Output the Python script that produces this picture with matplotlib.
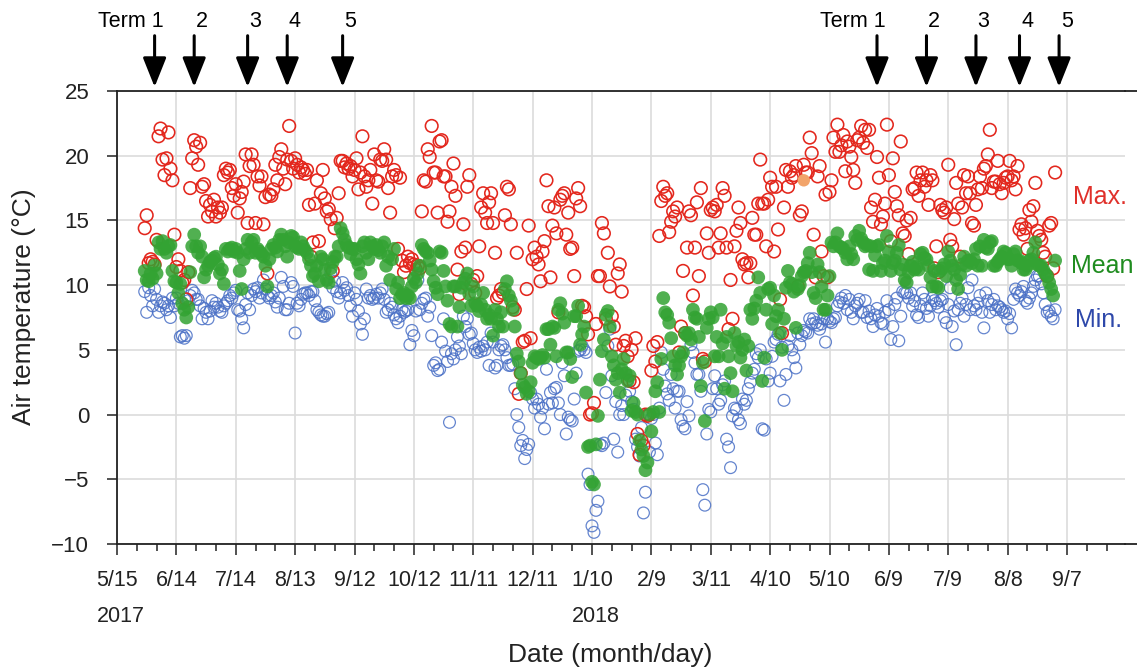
import numpy as np
import pandas as pd
import matplotlib
matplotlib.use('Agg')
import matplotlib.pyplot as plt
import matplotlib.transforms as mtransforms
import matplotlib.dates as mdates
from matplotlib.lines import Line2D

plt.rcParams['font.family'] = ['Liberation Sans', 'DejaVu Sans']

# ---------------- data (daily values, first day 2017-05-29) ----------------
start_date = '2017-05-29'

tmax = [
    14.4, 15.4, 11.7, 12.0, 11.8, 11.6, 13.5, 21.5, 22.1, 19.7,
    18.5, 19.8, 21.8, 19.0, 18.1, 13.9, 11.4, 12.0, 11.1, 10.2,
    10.4, 8.9, 11.0, 17.5, 19.8, 21.2, 20.7, 19.3, 21.0, 17.6,
    17.8, 16.5, 15.3, 16.2, 15.7, 16.6, 15.3, 16.0, 15.6, 16.0,
    18.5, 19.0, 18.7, 18.9, 17.5, 16.9, 17.8, 15.6, 16.7, 17.2,
    18.0, 20.1, 14.8, 19.2,
    20.1, 19.3, 14.8, 18.4, 17.7, 18.4, 14.7, 16.8, 10.9,
    17.0, 16.9, 17.4, 19.3, 18.1, 19.9, 20.5, 19.0, 17.8, 19.7,
    22.3, 19.6, 19.0, 19.8, 19.3, 18.7, 19.1, 18.9, 18.6, 18.9,
    16.2, 12.2, 13.3, 16.3, 18.1, 13.4, 17.1, 18.9, 16.7, 15.7,
    15.9, 15.1, 11.1, 14.4, 15.2, 17.1, 19.6, 19.6, 19.1, 19.4,
    19.0, 19.2, 18.4, 18.9, 19.8, 17.4, 18.7, 21.5, 18.4, 17.6,
    18.1,
    18.9, 16.3, 20.1, 18.1, 18.0, 19.7, 19.6, 20.5, 19.7, 17.5,
    15.6, 18.4, 18.9, 18.5, 12.8, 18.3, 11.9, 11.0, 11.5, 12.2,
    11.7, 12.0, 11.6, 11.2, 11.5, 11.3, 15.7, 18.1, 18.0, 20.5,
    19.9, 22.3, 18.7, 18.7, 15.6, 21.1, 21.2, 18.4, 18.4, 14.9,
    15.7, 17.6, 19.4, 16.9, 11.2, 9.3, 12.6, 14.7, 12.9, 17.6,
    18.5, 10.1, 10.4, 9.4, 10.7, 13.0, 16.0, 17.1, 15.6, 14.8,
    16.4,
    17.1, 14.8, 12.5, 9.0, 9.2, 9.7, 9.4, 15.4, 17.6, 17.4,
    14.7, 8.3, 8.1, 12.5, 1.6, 3.2, 5.6, 5.7, 9.7,
    14.6, 5.9, 12.0, 12.9, 12.2, 11.6, 10.3, 12.6, 13.4, 18.1,
    16.1, 10.6, 14.6, 16.0, 14.0, 7.9, 16.6, 16.9, 17.1, 13.9,
    15.6, 12.8, 12.9, 10.7, 16.7, 17.5, 16.1, 8.4, 8.3, 7.6,
    6.2, 0.0, 0.1, 0.9, 7.0, 10.7, 10.7, 14.8, 14.0, 7.4,
    12.5,
    9.9, 7.6, 6.8, 5.4, 10.9, 11.6, 9.5, 5.3, 5.7, 4.5,
    2.6, 5.0, 2.5, 5.9, -1.5, -3.1, -2.0, -2.4, 0.0, -0.1,
    0.0, 3.4, 5.3, 4.1, 5.6, 13.8, 16.5, 17.6, 16.9, 17.1,
    14.1, 14.9, 15.7, 15.3, 16.0, 4.8, 6.8, 11.1, 6.3, 12.9,
    15.7, 15.4, 9.2, 12.9, 16.4, 10.7, 17.5, 4.3, 4.1, 14.0,
    12.5, 15.8, 16.0, 15.7, 16.2, 12.9, 14.0, 17.5, 16.9,
    12.9,
    6.6, 10.4, 7.4, 13.0, 14.2, 16.0, 14.8, 12.0, 11.6, 11.7,
    10.6, 11.7, 15.2, 13.9, 13.9, 16.3, 19.7, 16.3, 16.3, 13.0,
    16.6, 18.3, 17.6, 12.6, 17.6, 14.3, 8.9, 6.3, 16.0, 18.9,
    17.6, 18.8, 18.3, 18.5, 19.2, 9.9, 15.4, 15.7, 19.3, 18.7,
    18.7, 21.4, 20.2, 13.9, 10.6, 18.4, 19.2, 12.6, 10.7, 17.0,
    10.6, 17.2, 18.1, 21.4, 20.3, 22.4, 20.3, 20.8, 21.6, 18.8,
    21.1,
    20.7, 19.9, 18.9, 17.9, 21.2, 21.4, 22.3, 21.0, 22.0, 20.6,
    22.0, 16.0, 14.9, 16.6, 19.9, 18.3, 14.7, 15.3, 16.3, 22.4,
    18.5, 13.4, 19.8, 17.2, 16.1, 15.4, 21.1, 14.0, 13.8, 15.0,
    12.4, 15.2, 17.4, 17.5, 18.7, 16.9, 18.1, 18.7, 17.6, 18.1,
    16.2, 18.5, 18.1, 11.3, 13.0, 11.0, 16.2, 15.8, 15.6, 16.0,
    19.3, 13.5, 13.0, 15.1, 17.9, 16.3, 12.2, 16.0, 18.5,
    17.1,
    18.4, 17.1, 14.8, 14.6, 16.2, 17.4, 18.4, 17.5, 19.0, 19.2,
    20.1, 22.0, 17.5, 18.0, 18.0, 19.6, 17.8, 17.1, 17.9, 18.3,
    18.4, 19.6, 18.1, 18.4, 17.4, 19.2, 14.3, 14.7, 13.9, 14.4,
    12.8, 15.8, 14.9, 16.1, 17.9,
    14.2, 13.8, 13.5, 12.5, 12.2, 10.7, 14.6, 14.8, 11.3, 18.7,
]

tmean = [
    11.1, 10.4, 10.3, 10.9, 10.5, 11.5, 10.9, 13.3, 12.8, 13.4,
    12.8, 12.5, 13.0, 13.1, 11.1, 10.3, 10.2, 9.4, 10.1, 8.6,
    8.1, 7.5, 8.3, 11.0, 13.0, 13.9, 13.0, 12.5, 13.0, 12.2,
    10.6, 11.2, 11.5, 11.8, 11.9, 12.1, 12.2, 11.6, 10.9, 11.2,
    10.1, 12.8, 12.6, 12.8, 12.9, 12.6, 12.8, 12.5, 11.1, 9.7,
    12.0, 12.8, 13.5, 12.5,
    13.3, 13.5, 12.5, 12.8, 12.6, 12.4, 12.2, 11.5, 9.9,
    12.0, 12.8, 13.1, 12.9, 12.6, 13.5, 13.9, 13.5, 13.0, 12.2,
    13.3, 13.8, 13.7, 13.0, 12.9, 12.8, 13.3, 13.0, 12.7, 12.5,
    12.0, 11.5, 10.7, 10.9, 11.5, 10.3, 12.2, 12.0, 11.2, 10.4,
    10.2, 11.3, 11.8, 12.2, 12.2, 13.0, 14.4, 14.0, 13.5, 13.1,
    12.9, 12.4, 12.8, 12.8, 12.0, 11.6, 10.9, 13.0, 13.3, 12.5,
    12.0,
    13.3, 13.0, 12.8, 13.1, 12.7, 12.5, 13.0, 13.3, 11.5, 12.2,
    10.4, 12.0, 12.8, 9.7, 10.2, 9.0, 9.3, 9.4, 9.0, 9.2,
    9.0, 9.9, 10.5, 10.2, 10.9, 11.5, 13.1, 12.8, 12.6, 12.5,
    11.9, 11.2, 10.3, 9.8, 9.3, 12.6, 12.5, 11.1, 9.9, 8.8,
    7.0, 6.8, 9.9, 9.9, 6.8, 8.3, 9.8, 10.2, 10.5, 10.9,
    9.3, 8.4, 9.9, 8.6, 8.4, 8.0, 8.5, 9.4, 8.1, 7.4,
    7.7,
    7.4, 6.1, 8.1, 7.4, 6.8, 7.9, 6.8, 9.7, 10.3, 9.2,
    8.8, 8.1, 6.8, 4.7, 4.1, 3.2, 2.3, 2.1, 1.6,
    1.8, 2.5, 4.0, 4.5, 4.4, 4.3, 4.4, 4.6, 4.4, 6.6,
    6.6, 5.4, 6.8, 6.7, 4.5, 8.1, 8.6, 7.8, 7.1, 4.8,
    4.8, 4.3, 2.9, 7.6, 7.6, 8.4, 5.4, 6.2, 6.8, 1.7,
    -2.5, -2.4, -5.2, -5.4, -2.3, -0.1, 2.7, 4.9, 5.8, 7.7,
    8.0,
    6.8, 4.5, 3.8, 2.7, 3.2, 1.7, 3.5, 4.3, 3.2, 2.6,
    3.0, 0.3, 0.9, 0.2, 0.0, -2.0, -2.7, -3.2, -4.3, -3.7,
    0.0, -1.3, 0.2, 1.8, 2.5, 0.2, 4.3, 9.0, 7.9, 7.7,
    7.1, 5.9, 4.5, 3.8, 3.1, 3.8, 4.5, 4.8, 6.3, 6.1,
    6.3, 5.8, 8.1, 7.5, 7.4, 6.0, 2.2, 4.0, -0.5, 6.7,
    7.4, 7.9, 7.5, 4.5, 6.0, 4.5, 8.1, 5.5, 2.0,
    6.0,
    4.5, 3.2, 1.8, 6.3, 5.3, 5.6, 4.4, 5.0, 5.8, 3.4,
    5.3, 8.1, 7.4, 8.2, 8.8, 10.6, 9.4, 2.6, 4.4, 8.1,
    9.7, 9.8, 7.0, 9.2, 7.6, 8.1, 6.3, 5.0, 7.4, 9.8,
    11.1, 10.2, 10.1, 9.5, 6.7, 9.7, 10.0, 10.7, 11.0, 11.1,
    11.7, 12.5, 11.0, 9.4, 9.0, 11.6, 11.0, 9.9, 8.1, 8.1,
    9.2, 10.7, 13.3, 13.0, 13.3, 14.0, 13.0, 12.9, 12.8, 12.5,
    12.0,
    13.0, 12.4, 12.0, 13.8, 13.5, 14.2, 13.6, 13.3, 13.0, 13.1,
    11.2, 13.0, 11.1, 12.3, 13.0, 13.1, 11.1, 11.7, 11.9, 13.8,
    12.6, 11.1, 11.7, 11.9, 12.5, 13.1, 11.2, 11.6, 10.4, 10.2,
    11.0, 11.5, 11.8, 11.2, 11.4, 11.2, 12.4, 12.5, 12.1, 12.0,
    11.5, 10.6, 9.9, 11.1, 9.9, 9.8, 11.1, 11.3, 11.6, 10.7,
    12.6, 11.9, 11.5, 11.2, 10.4, 9.7, 10.8, 11.6, 12.2, 11.5,
    11.9,
    11.9, 11.7, 12.0, 12.8, 11.5, 13.0, 11.5, 13.5, 12.9,
    12.8, 13.3, 13.4, 11.5, 11.5, 11.8, 12.0, 12.2, 12.6, 12.5,
    12.0, 12.0, 11.5, 12.4, 12.6, 11.9, 11.9, 11.7, 11.2, 11.2,
    11.5, 11.9, 12.0, 12.5, 13.3,
    11.6, 11.5, 11.5, 11.2, 10.9, 10.7, 10.2, 9.7, 9.2, 11.9,
]

tmin = [
    9.5, 7.9, 9.8, 9.2, 8.4, 9.7, 8.9, 7.9, 8.4, 8.7,
    8.6, 8.1, 8.4, 7.5, 9.0, 8.4, 9.0, 8.6, 6.0, 6.1,
    5.9, 6.1, 8.8, 9.2, 9.6, 9.4, 8.9, 8.9, 8.4, 7.4,
    8.2, 7.9, 7.4, 8.0, 8.8, 8.3, 8.6, 8.3, 8.0, 7.9,
    8.4, 8.6, 8.8, 9.2, 9.0, 9.4, 9.6, 8.1, 8.0, 7.4,
    6.7, 8.5, 9.4, 8.1,
    9.2, 9.7, 9.5, 9.8, 9.0, 9.4, 10.4, 9.7, 9.2,
    9.0, 9.2, 9.4, 8.7, 8.3, 9.0, 10.6, 9.9, 8.1, 8.1,
    8.6, 10.2, 9.9, 6.3, 8.6, 8.4, 8.9, 9.3, 9.4, 9.4,
    9.2, 9.5, 9.5, 8.8, 8.1, 7.9, 7.7, 7.6, 7.6, 7.8,
    7.9, 10.9, 9.8, 10.3, 9.5, 9.0, 9.4, 10.2, 9.6, 9.8,
    9.2, 8.4, 7.6, 9.4, 8.9, 8.0, 7.0, 6.2, 7.4, 9.7,
    9.0,
    9.2, 8.9, 9.0, 9.3, 9.0, 9.4, 9.7, 8.9, 7.9, 8.1,
    8.6, 8.3, 7.7, 7.4, 7.1, 7.6, 8.1, 7.9, 8.0, 8.1,
    5.4, 6.5, 6.1, 8.0, 10.4, 8.1, 8.6, 8.9, 9.0, 7.6,
    8.3, 6.1, 3.8, 4.0, 3.4, 3.5, 5.6, 7.4, 4.9, 4.1,
    -0.6, 4.7, 4.3, 5.0, 6.0, 5.3, 4.7, 7.6, 6.8, 7.4,
    6.2, 6.3, 5.5, 5.0, 4.8, 5.2, 4.9, 5.3, 5.0, 5.6,
    3.8,
    6.3, 5.6, 3.6, 3.8, 5.0, 5.3, 5.4, 5.0, 4.4, 3.8,
    3.8, 3.9, 2.0, 0.0, -1.0, -2.4, -2.0, -3.4, -2.7,
    -2.3, 1.7, 1.2, 0.5, 1.2, 0.8, -0.2, 0.5, -1.1, 3.5,
    0.8, 1.7, 0.9, 2.0, 2.1, 0.9, 0.0, 4.0, 3.0, -1.5,
    -0.2, -0.4, -0.5, 1.2, 3.2, 4.9, 5.0, 5.3, 5.0, 4.8,
    -4.6, -5.4, -8.6, -9.1, -7.4, -6.7, -2.3, -2.4, -2.2, 1.7,
    5.3,
    6.6, 3.0, -1.9, 1.0, -2.9, 0.0, 0.7, 0.0, 1.5, 2.7,
    1.8, 1.0, 0.4, -1.9, -2.5, -3.2, -1.0, -7.6, -6.0, 0.0,
    -2.9, -0.3, 0.0, -2.2, -3.1, 0.5, 4.8, 3.5, 2.2, 1.6,
    1.1, 3.1, 2.0, 0.5, 1.8, 1.8, -0.4, -0.9, -1.1, 1.0,
    -0.1, 5.4, 4.8, 4.0, 3.1, 3.1, 1.8, -5.8, -7.0,
    -1.5, 0.4, 0.2, 2.0, 3.0, 2.0, 0.8, 1.1, 2.3, 2.6,
    -1.9,
    -2.5, -4.1, -0.1, 0.5, 0.4, -0.4, -0.7, 1.2, 0.8, 1.1,
    2.0, 2.5, 3.2, 3.5, 4.7, 4.4, 5.0, -1.1, -1.2, 4.3,
    2.6, 3.2, 4.5, 5.6, 5.8, 6.2, 2.6, 5.2, 1.1, 3.1,
    5.3, 6.1, 5.0, 4.4, 3.6, 6.3, 5.4, 6.1, 6.5, 6.4,
    6.3, 7.4, 7.0, 7.4, 7.1, 6.9, 6.6, 7.0, 7.4, 5.6,
    7.4, 7.2, 7.1, 7.4, 7.5, 8.4, 8.7, 9.0, 8.6, 9.2,
    8.1,
    8.9, 7.9, 7.4, 8.4, 8.6, 8.9, 7.9, 7.9, 8.8, 7.5,
    8.0, 7.4, 6.8, 7.7, 8.2, 7.6, 7.1, 7.0, 7.9, 8.8,
    8.1, 5.8, 6.8, 8.5, 9.0, 5.7, 7.6, 9.5, 9.4, 9.4,
    9.0, 9.4, 8.4, 8.8, 7.7, 7.5, 8.4, 9.4, 8.9, 8.2,
    7.6, 8.4, 9.0, 8.8, 8.6, 8.3, 8.8, 8.9, 7.5, 7.1,
    8.5, 9.8, 6.8, 8.0, 5.4, 8.1, 8.6, 9.0, 7.6, 8.5,
    9.8,
    8.1, 10.4, 8.4, 8.1, 8.6, 9.2, 7.9, 6.7, 9.4,
    8.8, 7.9, 8.5, 8.9, 8.1, 8.4, 8.3, 8.1, 7.9, 8.0,
    7.4, 7.8, 6.7, 8.9, 9.7, 9.4, 9.2, 9.5, 9.9, 8.8,
    8.6, 9.0, 9.4, 9.9, 10.4,
    10.7, 10.7, 10.1, 9.4, 8.5, 7.9, 8.0, 7.6, 7.4, 8.1,
]

highlight_dates = ['2018-04-27']
highlight_values = [18.1]

term_dates = ['2017-06-03', '2017-06-23', '2017-07-20', '2017-08-09', '2017-09-06',
              '2018-06-03', '2018-06-28', '2018-07-23', '2018-08-14', '2018-09-03']
term_labels = ['Term 1', '2', '3', '4', '5', 'Term 1', '2', '3', '4', '5']

tick_start = '2017-05-15'
tick_labels = ['5/15', '6/14', '7/14', '8/13', '9/12', '10/12', '11/11', '12/11',
               '1/10', '2/9', '3/11', '4/10', '5/10', '6/9', '7/9', '8/8', '9/7']
year_labels = {0: '2017', 8: '2018'}

series_labels = ['Max.', 'Mean', 'Min.']
# ---------------------------------------------------------------------------

c_max = '#e3271d'
c_mean = '#33a333'
c_min = '#4a70c6'

W, H = 1137, 671
ax_left, ax_right, ax_top, ax_bottom = 117, 1125, 91, 544

fig = plt.figure(figsize=(W / 100, H / 100), dpi=100)
ax = fig.add_axes([ax_left / W, (H - ax_bottom) / H, (ax_right - ax_left) / W,
                   (ax_bottom - ax_top) / H])

def dates_for(vals):
    return mdates.date2num(pd.date_range(start_date, periods=len(vals), freq='D').to_pydatetime())

ax.scatter(dates_for(tmin), tmin, s=72, facecolors='none', edgecolors=c_min,
           linewidths=0.9, alpha=0.85, zorder=3)
ax.scatter(dates_for(tmax), tmax, s=82, facecolors='none', edgecolors=c_max,
           linewidths=1.15, zorder=4)
ax.scatter(dates_for(tmean), tmean, s=98, color=c_mean, edgecolors='none',
           alpha=0.85, zorder=5)
ax.scatter(mdates.date2num(pd.to_datetime(highlight_dates).to_pydatetime()), highlight_values,
           s=80, color='#f2a46a', edgecolors='none', zorder=6)

t0 = pd.Timestamp(tick_start)
x0 = mdates.date2num(t0.to_pydatetime())
major = x0 + 30 * np.arange(len(tick_labels))
minor = x0 + 10 * np.arange(51)
px_per_day = 950 / 480.0
ax.set_xlim(x0, x0 + (ax_right - ax_left) / px_per_day)
ax.set_ylim(-10, 25)
ax.set_xticks(major)
ax.set_xticklabels(tick_labels)
ax.set_xticks(minor, minor=True)
ax.set_yticks(np.arange(-10, 26, 5))
ax.set_yticklabels([f'{v}'.replace('-', '\u2212') for v in range(-10, 26, 5)])

ax.tick_params(axis='x', which='major', direction='out', length=8, width=1.1,
               labelsize=15.5, pad=11, colors='#222222')
ax.tick_params(axis='x', which='minor', direction='out', length=5, width=1.1, colors='#222222')
ax.tick_params(axis='y', which='major', direction='out', length=7, width=1.1,
               labelsize=16, pad=13, colors='#222222')
for name, s in ax.spines.items():
    s.set_linewidth(1.3)
    s.set_color('#222222')
ax.spines['right'].set_visible(False)

# top and bottom axis lines run on to the right edge of the figure
for yy in (ax_top, ax_bottom):
    fig.add_artist(Line2D([ax_right / W, 1.0], [1 - yy / H, 1 - yy / H],
                          transform=fig.transFigure, color='#222222', lw=1.3))

ax.grid(True, which='major', color='#dcdcdc', linewidth=1.2, zorder=0)
ax.set_axisbelow(True)

blend = mtransforms.blended_transform_factory(ax.transData, ax.transAxes)
for i, lab in year_labels.items():
    ax.annotate(lab, xy=(major[i], 0), xycoords=blend, xytext=(-14.5, -52),
                textcoords='offset points', ha='left', va='center', fontsize=15.5,
                color='#222222', annotation_clip=False)

term_x = mdates.date2num(pd.to_datetime(term_dates).to_pydatetime())
for d, lab in zip(term_x, term_labels):
    ax.annotate('', xy=(d, 1.009), xycoords=blend, xytext=(d, 1.122),
                arrowprops=dict(arrowstyle='-|>,head_length=0.9,head_width=0.36',
                                mutation_scale=20, lw=2.2, color='black',
                                shrinkA=0, shrinkB=0),
                annotation_clip=False)
    if lab.startswith('Term'):
        ax.annotate(lab, xy=(d, 1.0), xycoords=blend, xytext=(6.5, 50),
                    textcoords='offset points', ha='right', va='center',
                    fontsize=15.5, annotation_clip=False)
    else:
        ax.annotate(lab, xy=(d, 1.0), xycoords=blend, xytext=(5.5, 50),
                    textcoords='offset points', ha='center', va='center',
                    fontsize=15.5, annotation_clip=False)

fig.text(1073 / W, 1 - 197 / H, series_labels[0], color='#e0302a', fontsize=18,
         ha='left', va='center')
fig.text(1071 / W, 1 - 266 / H, series_labels[1], color='#1f8c1f', fontsize=18,
         ha='left', va='center')
fig.text(1075 / W, 1 - 320 / H, series_labels[2], color='#2e48aa', fontsize=18,
         ha='left', va='center')

fig.text(24 / W, 1 - 307 / H, 'Air temperature (\u00b0C)', rotation=90,
         ha='center', va='center', fontsize=19, color='#222222')
fig.text(610 / W, 1 - 655 / H, 'Date (month/day)', ha='center', va='center',
         fontsize=19, color='#222222')

fig.savefig('out.png', dpi=100)
